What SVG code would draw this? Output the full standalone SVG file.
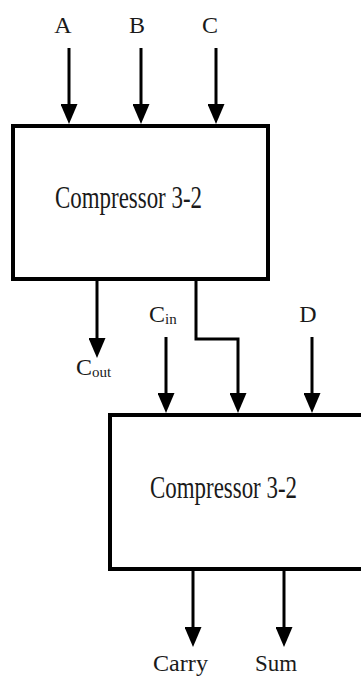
<svg xmlns="http://www.w3.org/2000/svg" width="361" height="682" viewBox="0 0 361 682">
<defs>
<style>
.box{fill:#fff;stroke:#000;stroke-width:4}
.wire{fill:none;stroke:#000;stroke-width:3}
.lbl{font-family:"Liberation Serif","Times New Roman",serif;font-size:24px;fill:#1a1a1a}
.sub{font-size:15px}
.title{font-family:"Liberation Serif","Times New Roman",serif;font-size:31px;fill:#1a1a1a}
</style>
<marker id="ah" viewBox="0 0 20 17" refX="10" refY="8.5" markerWidth="20" markerHeight="17" markerUnits="userSpaceOnUse" orient="auto">
<path d="M0,0 L20,8.5 L0,17 Z" fill="#000"/>
</marker>
</defs>
<rect width="361" height="682" fill="#fff"/>
<g id="comp1">
<rect class="box" x="13" y="126" width="255" height="153"/>
<text class="title" x="55" y="208" textLength="147" lengthAdjust="spacingAndGlyphs">Compressor 3-2</text>
</g>
<g id="comp2">
<rect class="box" x="110" y="415" width="253" height="154"/>
<text class="title" x="150" y="498" textLength="147" lengthAdjust="spacingAndGlyphs">Compressor 3-2</text>
</g>
<g id="labels">
<text class="lbl" x="63" y="33" text-anchor="middle">A</text>
<text class="lbl" x="137" y="33" text-anchor="middle">B</text>
<text class="lbl" x="210" y="33" text-anchor="middle">C</text>
<text class="lbl" x="76" y="375">C<tspan class="sub" dy="2">out</tspan></text>
<text class="lbl" x="149" y="322">C<tspan class="sub" dy="2">in</tspan></text>
<text class="lbl" x="308" y="322" text-anchor="middle">D</text>
<text class="lbl" x="153" y="671" textLength="55" lengthAdjust="spacingAndGlyphs">Carry</text>
<text class="lbl" x="255" y="671" textLength="42" lengthAdjust="spacingAndGlyphs">Sum</text>
</g>
<g id="connectors">
<line class="wire" x1="69" y1="48" x2="69" y2="114" marker-end="url(#ah)"/>
<line class="wire" x1="141" y1="48" x2="141" y2="114" marker-end="url(#ah)"/>
<line class="wire" x1="216" y1="48" x2="216" y2="114" marker-end="url(#ah)"/>
<line class="wire" x1="97" y1="281" x2="97" y2="348" marker-end="url(#ah)"/>
<line class="wire" x1="166" y1="337" x2="166" y2="403" marker-end="url(#ah)"/>
<path class="wire" d="M196,281 V339 H238 V403" marker-end="url(#ah)"/>
<line class="wire" x1="312" y1="337" x2="312" y2="403" marker-end="url(#ah)"/>
<line class="wire" x1="193" y1="571" x2="193" y2="637" marker-end="url(#ah)"/>
<line class="wire" x1="284" y1="571" x2="284" y2="637" marker-end="url(#ah)"/>
</g>
</svg>
